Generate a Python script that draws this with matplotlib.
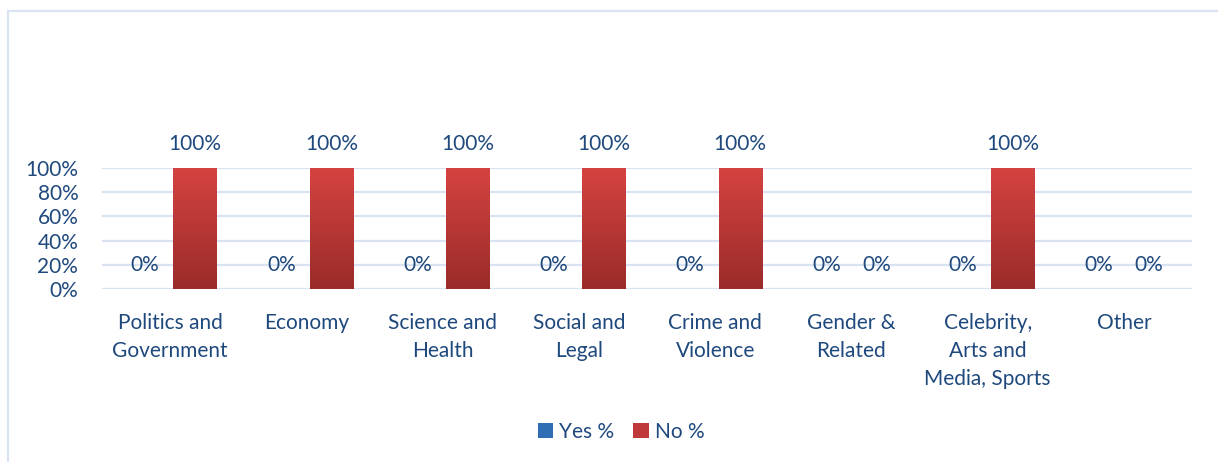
import numpy as np
import matplotlib
matplotlib.use("Agg")
import matplotlib.pyplot as plt
from matplotlib.colors import LinearSegmentedColormap
from matplotlib.patches import Rectangle, Patch

categories = ["Politics and\nGovernment", "Economy", "Science and\nHealth",
              "Social and\nLegal", "Crime and\nViolence", "Gender &\nRelated",
              "Celebrity,\nArts and\nMedia, Sports", "Other"]
yes_pct = [0, 0, 0, 0, 0, 0, 0, 0]
no_pct = [100, 100, 100, 100, 100, 0, 100, 0]
series = ["Yes %", "No %"]

TEXT_COL = "#1F497D"
GRID_COL = "#D9E3F1"
YES_TOP, YES_BOT = "#3A7CC8", "#28599A"
NO_TOP, NO_BOT = "#D44340", "#9A2B2A"
FS = 15

plt.rcParams["font.family"] = ["Lato", "DejaVu Sans"]

fig = plt.figure(figsize=(12.18, 4.62), dpi=100)
ax = fig.add_axes([0.0837, 0.3745, 0.895, 0.2619])

# outer chart frame (left and top edges visible)
fig.patches.append(Rectangle((8 / 1218, -0.1), 1.2, 1 - 11 / 462 + 0.1,
                             transform=fig.transFigure, fill=False,
                             edgecolor=GRID_COL, linewidth=1.6))

x = np.arange(len(categories))
off, w = 0.183, 0.316


def gradient_bars(bars, top, bot):
    cmap = LinearSegmentedColormap.from_list("g", [bot, top])
    grad = np.linspace(0, 1, 256).reshape(-1, 1)
    for b in bars:
        h = b.get_height()
        if h <= 0:
            continue
        b.set_facecolor("none")
        im = ax.imshow(grad, cmap=cmap, origin="lower", aspect="auto",
                       extent=[b.get_x(), b.get_x() + b.get_width(), 0, h],
                       zorder=2)
        im.set_clip_path(b)


bars_yes = ax.bar(x - off, yes_pct, w, color=YES_BOT, zorder=2)
bars_no = ax.bar(x + off, no_pct, w, color=NO_BOT, zorder=2)
gradient_bars(bars_yes, YES_TOP, YES_BOT)
gradient_bars(bars_no, NO_TOP, NO_BOT)

for bars, vals in [(bars_yes, yes_pct), (bars_no, no_pct)]:
    for b, v in zip(bars, vals):
        ax.annotate(f"{v}%", (b.get_x() + b.get_width() / 2, v),
                    xytext=(0, 17), textcoords="offset points",
                    ha="center", va="center", fontsize=FS, color=TEXT_COL)

ax.set_xlim(-0.5, len(categories) - 0.5)
ax.set_ylim(0, 100)
ax.set_yticks(range(0, 101, 20))
ax.set_yticklabels([f"{t}%" for t in range(0, 101, 20)])
ax.set_xticks(x)
ax.set_xticklabels(categories, linespacing=1.5)
ax.tick_params(axis="y", length=0, pad=17, labelsize=FS, labelcolor=TEXT_COL)
ax.tick_params(axis="x", length=0, pad=17, labelsize=FS, labelcolor=TEXT_COL)
for s in ax.spines.values():
    s.set_visible(False)
ax.grid(axis="y", color=GRID_COL, linewidth=1.6, zorder=0)
ax.set_axisbelow(True)

handles = [Patch(facecolor="#2F6DB5", edgecolor="none"),
           Patch(facecolor="#C0393A", edgecolor="none")]
ax.legend(handles, series, loc="center", bbox_to_anchor=(0.51, 1 - 432 / 462),
          bbox_transform=fig.transFigure, ncol=2, frameon=False, fontsize=FS,
          labelcolor=TEXT_COL, handlelength=0.75, handleheight=0.75,
          handletextpad=0.3, columnspacing=0.9)

fig.savefig("out.png", dpi=100)
